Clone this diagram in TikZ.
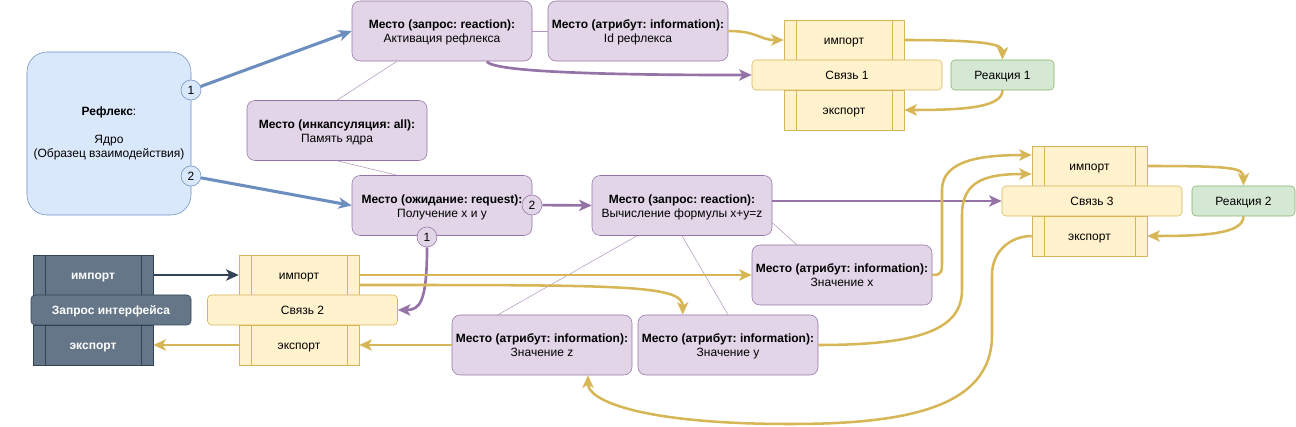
\documentclass[tikz,border=0pt]{standalone}
\usepackage{fontspec}
\setmainfont{Liberation Sans}
\usetikzlibrary{arrows.meta,calc}
\definecolor{RFXpurple}{HTML}{E1D5E7}
\definecolor{RFXpurpleLine}{HTML}{9673A6}
\definecolor{RFXyellow}{HTML}{FFF2CC}
\definecolor{RFXyellowLine}{HTML}{D6B656}
\definecolor{RFXblue}{HTML}{DAE8FC}
\definecolor{RFXblueLine}{HTML}{6C8EBF}
\definecolor{RFXgreen}{HTML}{D5E8D4}
\definecolor{RFXgreenLine}{HTML}{82B366}
\definecolor{RFXslate}{HTML}{647687}
\definecolor{RFXslateLine}{HTML}{314354}
\frenchspacing
\tikzset{
  placebox/.style={rounded corners=6pt, draw=RFXpurpleLine, fill=RFXpurple, align=center, minimum width=135pt, minimum height=45pt, inner sep=0pt, text height=20pt, text depth=2pt},
  corebox/.style={rounded corners=15pt, draw=RFXblueLine, fill=RFXblue, align=center, minimum width=123pt, minimum height=122.25pt, inner sep=0pt},
  bluedot/.style={circle, draw=RFXblueLine, fill=RFXblue, minimum size=15pt, inner sep=0pt},
  purpdot/.style={circle, draw=RFXpurpleLine, fill=RFXpurple, minimum size=15pt, inner sep=0pt},
  oneline/.style={text height=8pt, text depth=1pt},
  procbox/.style={oneline, draw=#1Line, fill=#1, minimum width=90pt, minimum height=30pt, inner sep=0pt,
    path picture={
      \draw[#1Line] ([xshift=9pt]path picture bounding box.north west) -- ([xshift=9pt]path picture bounding box.south west);
      \draw[#1Line] ([xshift=-9pt]path picture bounding box.north east) -- ([xshift=-9pt]path picture bounding box.south east);
    }},
  linkbar/.style={oneline, rounded corners=3pt, draw=RFXyellowLine, fill=RFXyellow, minimum width=142.5pt, minimum height=22.5pt, inner sep=0pt},
  reactbox/.style={oneline, rounded corners=3pt, draw=RFXgreenLine, fill=RFXgreen, minimum width=77.25pt, minimum height=22.5pt, inner sep=0pt},
  slatebar/.style={oneline, rounded corners=3pt, draw=RFXslateLine, fill=RFXslate, text=white, minimum width=120pt, minimum height=22.5pt, inner sep=0pt, font=\fontsize{9}{10.5}\selectfont\bfseries},
  bluearr/.style={-{Stealth[length=10pt,width=8.5pt,inset=3pt]}, line width=2.3pt, draw=RFXblueLine},
  purparr/.style={-{Stealth[length=9.5pt,width=8.5pt,inset=2.5pt]}, line width=2pt, draw=RFXpurpleLine},
  goldarr/.style={-{Stealth[length=9.5pt,width=8.5pt,inset=2.5pt]}, line width=1.9pt, draw=RFXyellowLine},
  darkarr/.style={-{Stealth[length=9.5pt,width=8.5pt,inset=2.5pt]}, line width=1.9pt, draw=RFXslateLine},
  thinlink/.style={line width=0.4pt, draw=RFXpurpleLine!75}
}

\begin{document}
\begin{tikzpicture}[x=0.75pt, y=-0.75pt, font=\fontsize{9}{10.5}\selectfont]
\useasboundingbox (0,0) rectangle (1296,427);
% core and its places
\node[corebox] (core) at (109,133.5) {{\bfseries Рефлекс}:\\[10.5pt]Ядро\\(Образец взаимодействия)};
\node[placebox] (p1) at (442,31) {{\bfseries Место (запрос: reaction):}\\Активация рефлекса};
\node[placebox] (pid) at (638,31) {{\bfseries Место (атрибут: information):}\\Id рефлекса};
\node[placebox] (pmem) at (337,130.5) {{\bfseries Место (инкапсуляция: all):}\\Память ядра};
\node[placebox] (p2) at (442,205.5) {{\bfseries Место (ожидание: request):}\\Получение x и y};
\node[placebox] (p3) at (682,205.5) {{\bfseries Место (запрос: reaction):}\\Вычисление формулы x+y=z};
\node[placebox] (px) at (842,275) {{\bfseries Место (атрибут: information):}\\Значение x};
\node[placebox] (py) at (728,345) {{\bfseries Место (атрибут: information):}\\Значение y};
\node[placebox] (pz) at (542,345) {{\bfseries Место (атрибут: information):}\\Значение z};
\node[bluedot] (c1) at (191,90) {1};
\node[bluedot] (c2) at (191,176) {2};
\node[purpdot] (c3) at (532,205) {2};
\node[purpdot] (c4) at (427,237) {1};

% links
\node[procbox=RFXyellow] (imp1) at (844,40) {импорт};
\node[procbox=RFXyellow] (exp1) at (844,110) {экспорт};
\node[linkbar] (bar1) at (847,75) {Связь 1};
\node[reactbox] (r1) at (1002.5,75) {Реакция 1};

\node[procbox=RFXyellow] (imp2) at (299,275) {импорт};
\node[procbox=RFXyellow] (exp2) at (299,345) {экспорт};
\node[linkbar] (bar2) at (302.5,310) {Связь 2};

\node[procbox=RFXyellow, minimum width=86.25pt] (imp3) at (1089.5,166) {импорт};
\node[procbox=RFXyellow, minimum width=86.25pt] (exp3) at (1089.5,236) {экспорт};
\node[linkbar, minimum width=135pt] (bar3) at (1092,201) {Связь 3};
\node[reactbox] (r2) at (1243.5,201) {Реакция 2};

% interface
\node[procbox=RFXslate, text=white, font=\fontsize{9}{10.5}\selectfont\bfseries] (ii) at (93,275) {импорт};
\node[procbox=RFXslate, text=white, font=\fontsize{9}{10.5}\selectfont\bfseries] (ie) at (93,345) {экспорт};
\node[slatebar] (ibar) at (111,310) {Запрос интерфейса};

% thin relations
\draw[thinlink] (p1.east) -- (pid.west);
\draw[thinlink] ($(p1.south)+(-45,0)$) -- (pmem.north);
\draw[thinlink] (pmem.south) -- ($(p2.north)+(-45,0)$);
\draw[thinlink] ($(p3.south)+(-45,0)$) -- ($(pz.north)+(-44,0)$);
\draw[thinlink] (p3.south) -- (py.north);
\draw[thinlink] ($(p3.south east)+(0,-13)$) -- ($(px.north west)+(45,0)$);

% calls
\draw[bluearr] (c1) -- (p1.west);
\draw[bluearr] (c2) -- (p2.west);
\draw[purparr] (c3) -- (p3.west);
\draw[purparr] (c4.south) .. controls +(0,55) and +(22,0) .. (bar2.east);
\draw[purparr] ($(p1.south)+(45,0)$) .. controls +(5,14) and +(-60,0) .. (bar1.west);
\draw[purparr] (p3.east |- bar3.west) -- (bar3.west);

% data flow
\draw[goldarr] (pid.east) .. controls +(30,0) and +(-25,0) .. (imp1.west);
\draw[goldarr] (imp1.east) .. controls +(85,0) and +(0,-15) .. (r1.north);
\draw[goldarr] (r1.south) .. controls +(0,18) and +(55,0) .. (exp1.east);
\draw[darkarr] (ii.east) -- (imp2.west);
\draw[goldarr] (exp2.west) -- (ie.east);
\draw[goldarr] (pz.west) -- (exp2.east);
\draw[goldarr] (imp2.east) -- (px.west);
\draw[goldarr] ($(imp2.east)+(0,10)$) .. controls +(260,0) and +(0,-30) .. ($(py.north west)+(45,0)$);
\draw[goldarr] (px.east) .. controls +(10,0) and +(0,12) .. (942,260) -- (942,190) .. controls +(0,-30) and +(-50,0) .. ($(imp3.west)+(0,-11)$);
\draw[goldarr] (py.east) .. controls +(100,0) and +(0,40) .. (962,290) -- (962,215) .. controls +(0,-35) and +(-45,0) .. ($(imp3.west)+(0,8)$);
\draw[goldarr] (exp3.west) .. controls +(-20,0) and +(0,-25) .. (992,275) -- (992,335) .. controls +(0,75) and +(110,0) .. (790,424) .. controls +(-150,0) and +(0,25) .. ($(pz.south)+(46,0)$);
\draw[goldarr] (imp3.east) .. controls +(85,0) and +(0,-18) .. (r2.north);
\draw[goldarr] (r2.south) .. controls +(0,18) and +(55,0) .. (exp3.east);
\end{tikzpicture}
\end{document}
